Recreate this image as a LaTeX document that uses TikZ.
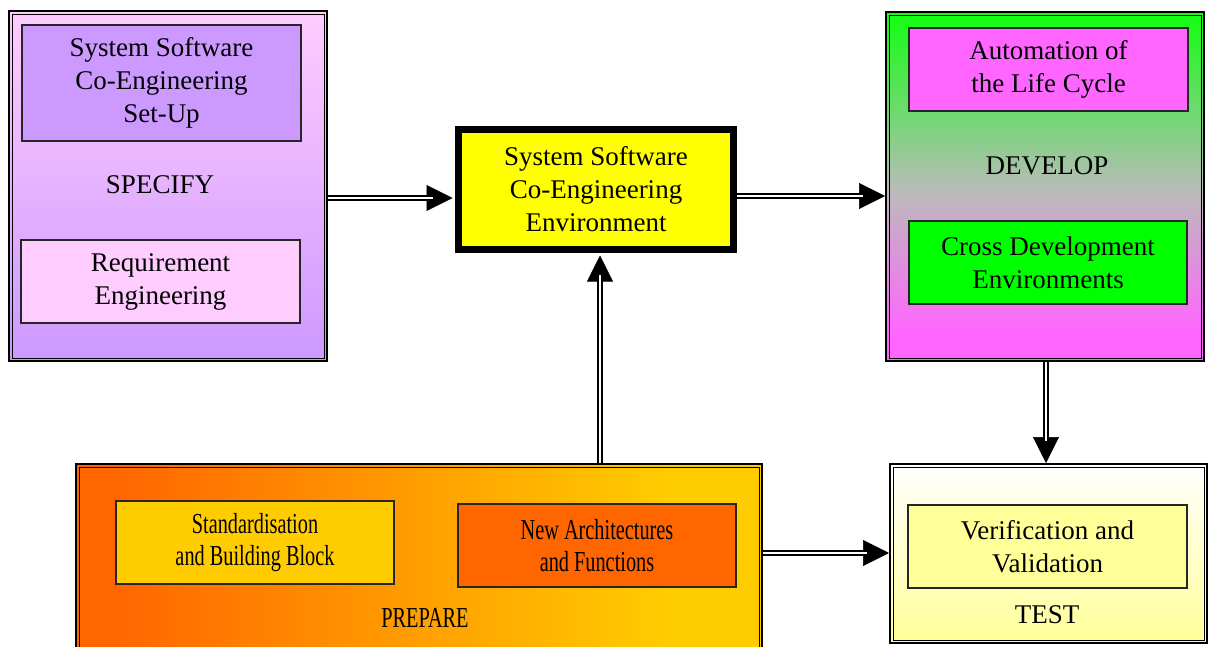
\documentclass[tikz,border=0pt]{standalone}
\usepackage{fontspec}
\setmainfont{Liberation Serif}
\newfontfamily\condfont[FakeStretch=0.7]{Liberation Serif}
\usetikzlibrary{arrows.meta}
\definecolor{lilac}{RGB}{204,153,255}
\definecolor{pinkl}{RGB}{255,204,255}
\definecolor{mag}{RGB}{255,102,255}
\definecolor{grn}{RGB}{0,255,0}
\definecolor{grn2}{RGB}{17,255,17}
\definecolor{midg}{RGB}{188,186,188}
\definecolor{orng}{RGB}{255,102,0}
\definecolor{gold}{RGB}{255,204,0}
\definecolor{yel}{RGB}{255,255,0}
\definecolor{ltyel}{RGB}{255,255,153}
\pgfdeclareverticalshading{devshade}{100bp}{color(0bp)=(mag); color(29bp)=(mag); color(49bp)=(midg); color(75bp)=(grn2); color(100bp)=(grn2)}
\pgfdeclarehorizontalshading{prepshade}{100bp}{color(0bp)=(orng); color(28bp)=(orng); color(68bp)=(gold); color(100bp)=(gold)}
\tikzset{
  txt/.style={font=\fontsize{27}{33}\selectfont, align=center, inner sep=0pt},
  ctxt/.style={font=\condfont\fontsize{29}{32}\selectfont, align=center, inner sep=0pt},
  outerbox/.style={draw=black, line width=2pt, inner sep=0pt},
  innerbox/.style={draw=black!85, line width=1.2pt, inner sep=0pt},
  dblline/.style={double, line width=1.8pt, double distance=1.6pt},
  headline/.style={-{Triangle[length=26pt,width=26pt]}, line width=0.6pt},
}
\begin{document}
\begin{tikzpicture}[x=1pt,y=-1pt]
\useasboundingbox (0,0) rectangle (1210,646);
% outer boxes
\node[outerbox, top color=pinkl, bottom color=lilac, minimum width=318pt, minimum height=350pt] (spec) at (168,186) {};
\draw[line width=1pt] ([shift={(4,4)}]spec.north west) rectangle ([shift={(-4,-4)}]spec.south east);
\node[outerbox, shading=devshade, minimum width=318pt, minimum height=349pt] (dev) at (1045,186.5) {};
\draw[line width=1pt] ([shift={(4,4)}]dev.north west) rectangle ([shift={(-4,-4)}]dev.south east);
\node[outerbox, shading=prepshade, minimum width=686pt, minimum height=216pt] (prep) at (419,572) {};
\draw[line width=1pt] ([shift={(4,4)}]prep.north west) rectangle ([shift={(-4,-4)}]prep.south east);
\node[outerbox, top color=white, bottom color=ltyel, minimum width=317pt, minimum height=179pt] (test) at (1048.5,553.5) {};
\draw[line width=1pt] ([shift={(4,4)}]test.north west) rectangle ([shift={(-4,-4)}]test.south east);
% central box
\node[draw=black, line width=5pt, fill=yel, minimum width=277pt, minimum height=122pt, txt] (env) at (596,189.5) {System Software\\Co-Engineering\\Environment};
\draw[line width=1.6pt] ([shift={(6.2,6.2)}]env.north west) rectangle ([shift={(-6.2,-6.2)}]env.south east);
% inner boxes
\node[innerbox, fill=lilac, minimum width=279pt, minimum height=116pt, txt] (setup) at (161.5,83) {System Software\\Co-Engineering\\Set-Up};
\node[innerbox, fill=pinkl, minimum width=279pt, minimum height=83pt, txt] (req) at (160.5,281.5) {Requirement\\Engineering};
\node[txt] (speclbl) at (160,185) {SPECIFY};
\node[innerbox, fill=mag, minimum width=279pt, minimum height=83pt, txt] (auto) at (1048.5,69.5) {Automation of\\the Life Cycle};
\node[innerbox, fill=grn, minimum width=278pt, minimum height=83pt, txt] (cross) at (1048,262.5) {Cross Development\\Environments};
\node[txt] (devlbl) at (1047,166) {DEVELOP};
\node[innerbox, fill=gold, minimum width=278pt, minimum height=83pt, ctxt] (std) at (255,542.5) {Standardisation\\and Building Block};
\node[innerbox, fill=orng, minimum width=278pt, minimum height=83pt, ctxt] (arch) at (597,545.5) {New Architectures\\and Functions};
\node[ctxt] (preplbl) at (425,618) {PREPARE};
\node[innerbox, fill=ltyel, minimum width=279pt, minimum height=83pt, txt] (vv) at (1047.5,546.5) {Verification and\\Validation};
\node[txt] (testlbl) at (1047,615) {TEST};
% connector rows
\coordinate (r1) at (0,198);
\coordinate (r2) at (0,196);
\coordinate (c3) at (600,0);
\coordinate (c4) at (1046,0);
\coordinate (r5) at (0,553);
% arrows
\draw[headline, shorten >=2.5pt] (spec.east |- r1) -- (env.west |- r1);
\draw[dblline, shorten >=22pt] (spec.east |- r1) -- (env.west |- r1);
\draw[headline] (env.east |- r2) -- (dev.west |- r2);
\draw[dblline, shorten >=22pt] (env.east |- r2) -- (dev.west |- r2);
\draw[headline, shorten >=2.5pt] (c3 |- prep.north) -- (c3 |- env.south);
\draw[dblline, shorten >=22pt] (c3 |- prep.north) -- (c3 |- env.south);
\draw[headline] (c4 |- dev.south) -- (c4 |- test.north);
\draw[dblline, shorten >=22pt] (c4 |- dev.south) -- (c4 |- test.north);
\draw[headline] (prep.east |- r5) -- (test.west |- r5);
\draw[dblline, shorten >=22pt] (prep.east |- r5) -- (test.west |- r5);
\end{tikzpicture}
\end{document}
